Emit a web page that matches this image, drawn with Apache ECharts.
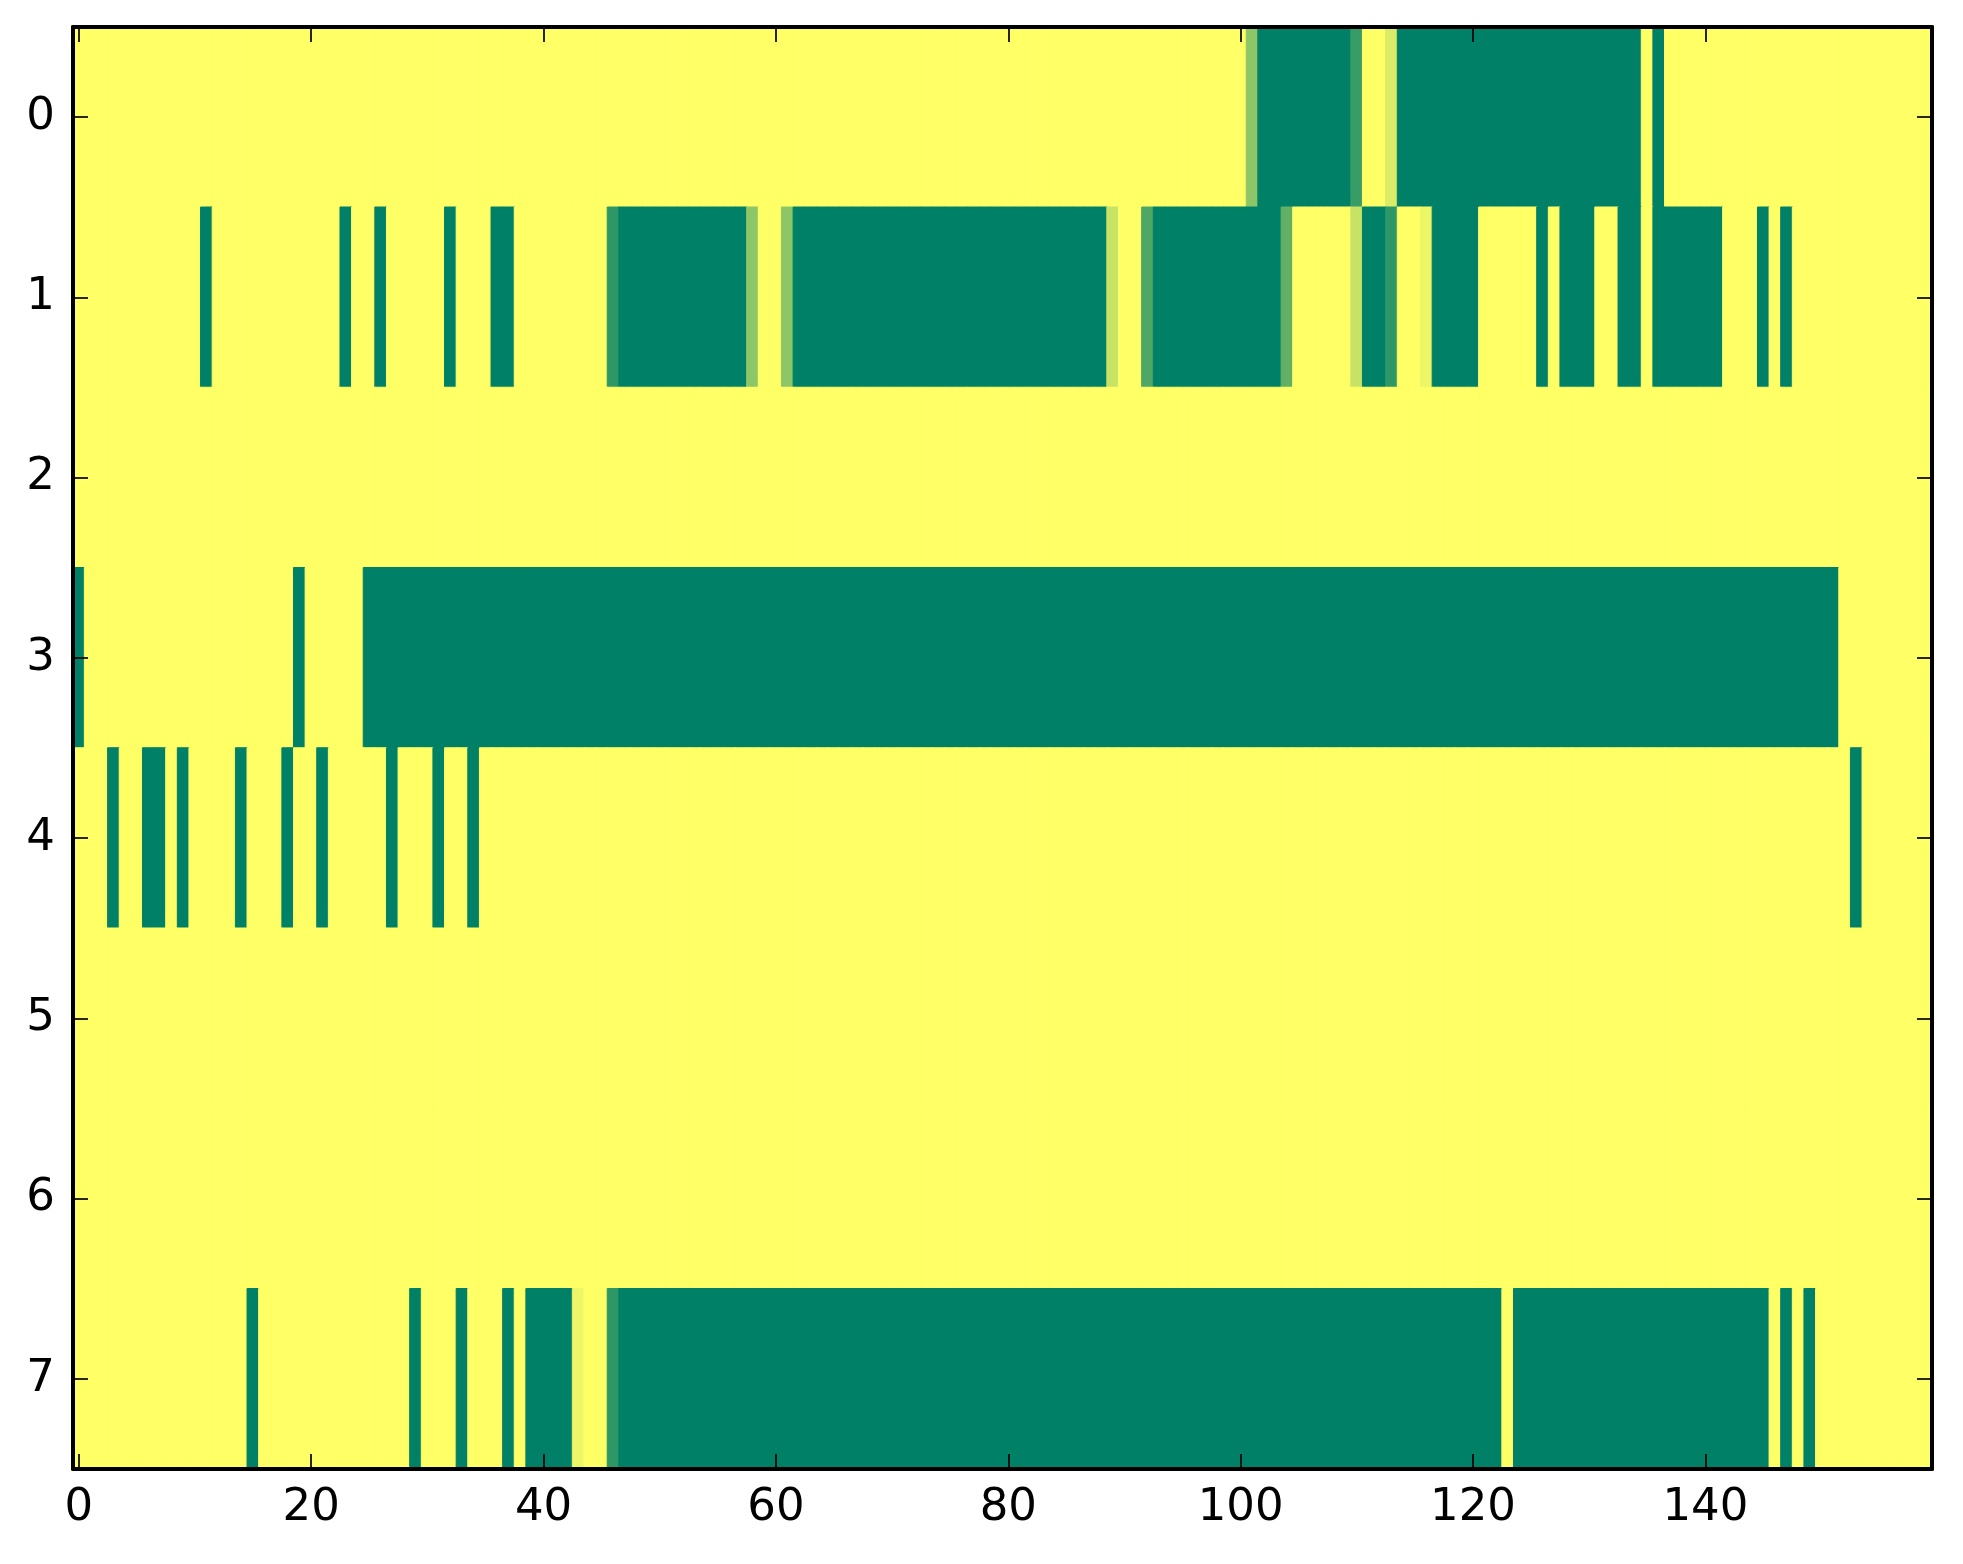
<!DOCTYPE html>
<html>
<head>
<meta charset="utf-8">
<script src="https://cdn.jsdelivr.net/npm/echarts@6/dist/echarts.min.js"></script>
<style>
html,body{margin:0;padding:0;background:#ffffff;}
#chart{width:1963px;height:1564px;}
</style>
</head>
<body>
<div id="chart"></div>
<script>
// Column categories 0..159 and row categories 0..7
const xCategories = Array.from({length:160}, (_, i) => String(i));
const yCategories = ['0','1','2','3','4','5','6','7'];

// Cell values per row (0 = yellow, 1 = green)
const row0 = [
0,0,0,0,0,0,0,0,0,0,0,0,0,0,0,0,0,0,0,0,
0,0,0,0,0,0,0,0,0,0,0,0,0,0,0,0,0,0,0,0,
0,0,0,0,0,0,0,0,0,0,0,0,0,0,0,0,0,0,0,0,
0,0,0,0,0,0,0,0,0,0,0,0,0,0,0,0,0,0,0,0,
0,0,0,0,0,0,0,0,0,0,0,0,0,0,0,0,0,0,0,0,
0,0.45,1,1,1,1,1,1,1,1,0.78,0,0,0.14,1,1,1,1,1,1,
1,1,1,1,1,1,1,1,1,1,1,1,1,1,1,0,1,0,0,0,
0,0,0,0,0,0,0,0,0,0,0,0,0,0,0,0,0,0,0,0
];
const row1 = [
0,0,0,0,0,0,0,0,0,0,0,1,0,0,0,0,0,0,0,0,
0,0,0,1,0,0,1,0,0,0,0,0,1,0,0,0,1,1,0,0,
0,0,0,0,0,0,0.82,1,1,1,1,1,1,1,1,1,1,1,0.45,0,
0,0.45,1,1,1,1,1,1,1,1,1,1,1,1,1,1,1,1,1,1,
1,1,1,1,1,1,1,1,1,0.22,0,0,0.69,1,1,1,1,1,1,1,
1,1,1,1,0.62,0,0,0,0,0,0.22,1,1,0.82,0,0,0.07,1,1,1,
1,0,0,0,0,0,1,0,1,1,1,0,0,1,1,0,1,1,1,1,
1,1,0,0,0,1,0,1,0,0,0,0,0,0,0,0,0,0,0,0
];
const row2 = [
0,0,0,0,0,0,0,0,0,0,0,0,0,0,0,0,0,0,0,0,
0,0,0,0,0,0,0,0,0,0,0,0,0,0,0,0,0,0,0,0,
0,0,0,0,0,0,0,0,0,0,0,0,0,0,0,0,0,0,0,0,
0,0,0,0,0,0,0,0,0,0,0,0,0,0,0,0,0,0,0,0,
0,0,0,0,0,0,0,0,0,0,0,0,0,0,0,0,0,0,0,0,
0,0,0,0,0,0,0,0,0,0,0,0,0,0,0,0,0,0,0,0,
0,0,0,0,0,0,0,0,0,0,0,0,0,0,0,0,0,0,0,0,
0,0,0,0,0,0,0,0,0,0,0,0,0,0,0,0,0,0,0,0
];
const row3 = [
1,0,0,0,0,0,0,0,0,0,0,0,0,0,0,0,0,0,0,1,
0,0,0,0,0,1,1,1,1,1,1,1,1,1,1,1,1,1,1,1,
1,1,1,1,1,1,1,1,1,1,1,1,1,1,1,1,1,1,1,1,
1,1,1,1,1,1,1,1,1,1,1,1,1,1,1,1,1,1,1,1,
1,1,1,1,1,1,1,1,1,1,1,1,1,1,1,1,1,1,1,1,
1,1,1,1,1,1,1,1,1,1,1,1,1,1,1,1,1,1,1,1,
1,1,1,1,1,1,1,1,1,1,1,1,1,1,1,1,1,1,1,1,
1,1,1,1,1,1,1,1,1,1,1,1,0,0,0,0,0,0,0,0
];
const row4 = [
0,0,0,1,0,0,1,1,0,1,0,0,0,0,1,0,0,0,1,0,
0,1,0,0,0,0,0,1,0,0,0,1,0,0,1,0,0,0,0,0,
0,0,0,0,0,0,0,0,0,0,0,0,0,0,0,0,0,0,0,0,
0,0,0,0,0,0,0,0,0,0,0,0,0,0,0,0,0,0,0,0,
0,0,0,0,0,0,0,0,0,0,0,0,0,0,0,0,0,0,0,0,
0,0,0,0,0,0,0,0,0,0,0,0,0,0,0,0,0,0,0,0,
0,0,0,0,0,0,0,0,0,0,0,0,0,0,0,0,0,0,0,0,
0,0,0,0,0,0,0,0,0,0,0,0,0,1,0,0,0,0,0,0
];
const row5 = [
0,0,0,0,0,0,0,0,0,0,0,0,0,0,0,0,0,0,0,0,
0,0,0,0,0,0,0,0,0,0,0,0,0,0,0,0,0,0,0,0,
0,0,0,0,0,0,0,0,0,0,0,0,0,0,0,0,0,0,0,0,
0,0,0,0,0,0,0,0,0,0,0,0,0,0,0,0,0,0,0,0,
0,0,0,0,0,0,0,0,0,0,0,0,0,0,0,0,0,0,0,0,
0,0,0,0,0,0,0,0,0,0,0,0,0,0,0,0,0,0,0,0,
0,0,0,0,0,0,0,0,0,0,0,0,0,0,0,0,0,0,0,0,
0,0,0,0,0,0,0,0,0,0,0,0,0,0,0,0,0,0,0,0
];
const row6 = [
0,0,0,0,0,0,0,0,0,0,0,0,0,0,0,0,0,0,0,0,
0,0,0,0,0,0,0,0,0,0,0,0,0,0,0,0,0,0,0,0,
0,0,0,0,0,0,0,0,0,0,0,0,0,0,0,0,0,0,0,0,
0,0,0,0,0,0,0,0,0,0,0,0,0,0,0,0,0,0,0,0,
0,0,0,0,0,0,0,0,0,0,0,0,0,0,0,0,0,0,0,0,
0,0,0,0,0,0,0,0,0,0,0,0,0,0,0,0,0,0,0,0,
0,0,0,0,0,0,0,0,0,0,0,0,0,0,0,0,0,0,0,0,
0,0,0,0,0,0,0,0,0,0,0,0,0,0,0,0,0,0,0,0
];
const row7 = [
0,0,0,0,0,0,0,0,0,0,0,0,0,0,0,1,0,0,0,0,
0,0,0,0,0,0,0,0,0,1,0,0,0,1,0,0,0,1,0,1,
1,1,1,0.07,0,0,0.82,1,1,1,1,1,1,1,1,1,1,1,1,1,
1,1,1,1,1,1,1,1,1,1,1,1,1,1,1,1,1,1,1,1,
1,1,1,1,1,1,1,1,1,1,1,1,1,1,1,1,1,1,1,1,
1,1,1,1,1,1,1,1,1,1,1,1,1,1,1,1,1,1,1,1,
1,1,1,0,1,1,1,1,1,1,1,1,1,1,1,1,1,1,1,1,
1,1,1,1,1,1,0,1,0,1,0,0,0,0,0,0,0,0,0,0
];
const rows = [row0, row1, row2, row3, row4, row5, row6, row7];

// Tick labels shown on the x axis
const xTickLabels = ['0','20','40','60','80','100','120','140'];

// Colour scale ends (summer_r style)
const colorScale = ['#ffff66', '#008066'];

const cells = [];
rows.forEach((r, yi) => r.forEach((v, xi) => {
  const c = echarts.color.lerp(v, colorScale);
  cells.push({value: [xi, yi, v], itemStyle: {borderColor: c, borderWidth: 1}});
}));

const FONT = 'DejaVu Sans';
const isXTick = (idx) => xTickLabels.indexOf(xCategories[idx]) >= 0;

const lineStyle = {color: '#000', width: 4};
const tickStyle = {color: '#000', width: 1.7};

const chart = echarts.init(document.getElementById('chart'), null, {renderer: 'canvas'});
chart.setOption({
  backgroundColor: '#ffffff',
  animation: false,
  grid: {left: 73, right: 31, top: 27, bottom: 95, containLabel: false},
  xAxis: [
    {
      type: 'category', data: xCategories, position: 'bottom', z: 10,
      axisLine: {show: true, lineStyle: lineStyle},
      axisTick: {show: true, inside: true, length: 15, alignWithLabel: true,
                 interval: (i) => isXTick(i), lineStyle: tickStyle},
      axisLabel: {show: true, interval: (i) => isXTick(i), margin: 17,
                  fontFamily: FONT, fontSize: 45, color: '#000'},
      splitLine: {show: false}
    },
    {
      type: 'category', data: xCategories, position: 'top', z: 10,
      axisLine: {show: true, lineStyle: lineStyle},
      axisTick: {show: true, inside: true, length: 15, alignWithLabel: true,
                 interval: (i) => isXTick(i), lineStyle: tickStyle},
      axisLabel: {show: false},
      splitLine: {show: false}
    }
  ],
  yAxis: [
    {
      type: 'category', data: yCategories, inverse: true, position: 'left', z: 10,
      axisLine: {show: true, lineStyle: lineStyle},
      axisTick: {show: true, inside: true, length: 15, alignWithLabel: true,
                 lineStyle: tickStyle},
      axisLabel: {show: true, margin: 18, fontFamily: FONT, fontSize: 45, color: '#000'},
      splitLine: {show: false}
    },
    {
      type: 'category', data: yCategories, inverse: true, position: 'right', z: 10,
      axisLine: {show: true, lineStyle: lineStyle},
      axisTick: {show: true, inside: true, length: 15, alignWithLabel: true,
                 lineStyle: tickStyle},
      axisLabel: {show: false},
      splitLine: {show: false}
    }
  ],
  visualMap: {
    show: false, type: 'continuous', min: 0, max: 1, dimension: 2, seriesIndex: 0,
    inRange: {color: colorScale}
  },
  series: [{
    type: 'heatmap', xAxisIndex: 0, yAxisIndex: 0, data: cells, z: 2,
    emphasis: {disabled: true},
    progressive: 0
  }]
});
</script>
</body>
</html>
